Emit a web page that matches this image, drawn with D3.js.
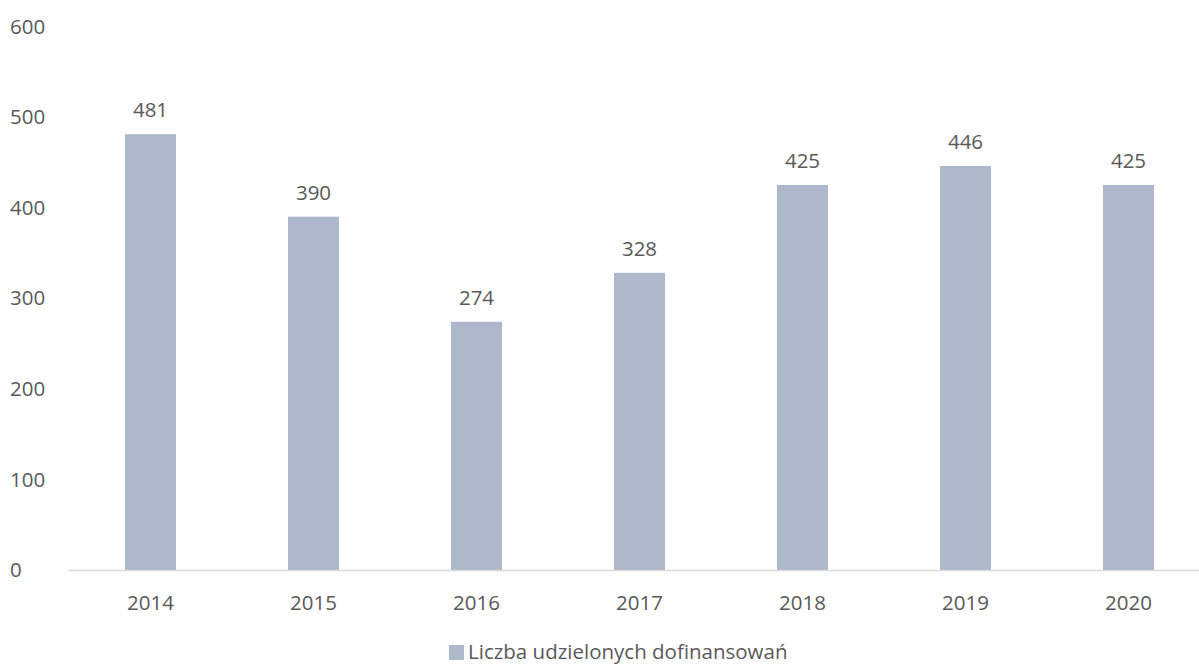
<!DOCTYPE html>
<html>
<head>
<meta charset="utf-8">
<script src="https://cdn.jsdelivr.net/npm/d3@7"></script>
<style>
  body { margin: 0; background: #fff; }
  text { font-family: "Open Sans", sans-serif; fill: #595959; }
</style>
</head>
<body>
<script>
const years = ['2014', '2015', '2016', '2017', '2018', '2019', '2020'];
const values = [481, 390, 274, 328, 425, 446, 425];
const yTicks = [0, 100, 200, 300, 400, 500, 600];
const seriesName = 'Liczba udzielonych dofinansowań';

const width = 1199;
const height = 664;

const svg = d3.select('body')
    .append('svg')
    .attr('width', width)
    .attr('height', height);

// band goes past the right edge, like in the original
const x = d3.scaleBand()
    .domain(years)
    .range([69, 1210])
    .paddingInner(0.687)
    .paddingOuter(0.3435);

const y = d3.scaleLinear()
    .domain([0, 600])
    .range([570, 26.4]);

// y labels, no axis line
svg.append('g')
    .selectAll('text')
    .data(yTicks)
    .enter()
    .append('text')
    .attr('x', 10)
    .attr('y', d => y(d))
    .attr('dy', '0.35em')
    .attr('font-size', 20.5)
    .text(d => d);

svg.selectAll('rect.bar')
    .data(values)
    .enter()
    .append('rect')
    .attr('class', 'bar')
    .attr('x', (d, i) => x(years[i]))
    .attr('y', d => y(d))
    .attr('width', x.bandwidth())
    .attr('height', d => y(0) - y(d))
    .attr('fill', '#adb9ca');

// baseline
svg.append('line')
    .attr('x1', 69)
    .attr('x2', width)
    .attr('y1', y(0) + 0.5)
    .attr('y2', y(0) + 0.5)
    .attr('stroke', '#d9d9d9')
    .attr('stroke-width', 1.5);

svg.selectAll('text.val')
    .data(values)
    .enter()
    .append('text')
    .attr('class', 'val')
    .attr('x', (d, i) => x(years[i]) + x.bandwidth() / 2)
    .attr('y', d => y(d) - 24)
    .attr('dy', '0.35em')
    .attr('text-anchor', 'middle')
    .attr('font-size', 20.5)
    .text(d => d);

svg.selectAll('text.year')
    .data(years)
    .enter()
    .append('text')
    .attr('class', 'year')
    .attr('x', d => x(d) + x.bandwidth() / 2)
    .attr('y', 603)
    .attr('dy', '0.35em')
    .attr('text-anchor', 'middle')
    .attr('font-size', 20.5)
    .text(d => d);

// legend
let legend = svg.append('g');
legend.append('rect')
    .attr('x', 449)
    .attr('y', 645)
    .attr('width', 15)
    .attr('height', 15)
    .attr('fill', '#adb9ca');
legend.append('text')
    .attr('x', 468)
    .attr('y', 652)
    .attr('dy', '0.35em')
    .attr('font-size', 20.5)
    .text(seriesName);
</script>
</body>
</html>
